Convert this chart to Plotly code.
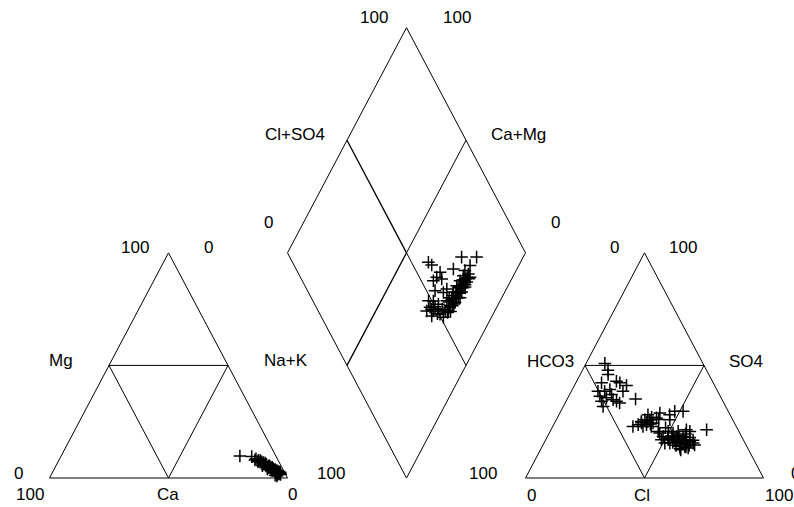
import plotly.graph_objects as go

# ---- data (percent of meq/L) ----
# Cation triangle: Ca and Mg (Na+K is the remainder)
cat_ca = [15.1, 10.3, 9.7, 9.0, 8.5, 8.0, 7.5, 7.0, 6.8, 6.2, 6.0, 5.5, 5.2, 5.0, 4.6, 4.3,
          4.0, 3.8, 3.5, 3.2, 3.0, 2.8, 2.5, 2.2, 2.0, 1.8, 4.0, 3.5, 3.0, 6.5, 7.8, 2.6,
          8.8, 8.2, 7.2, 6.6, 6.4, 5.8, 5.6, 4.9, 4.8, 4.4, 3.9, 3.6, 3.3, 2.9, 2.4, 2.1,
          4.6, 3.7]
cat_mg = [9.8, 9.5, 8.0, 8.5, 7.5, 7.0, 7.8, 6.5, 6.0, 5.8, 6.6, 5.2, 4.8, 5.5, 4.5, 4.0,
          4.8, 3.6, 3.2, 3.8, 2.8, 3.3, 2.5, 2.9, 2.2, 2.6, 0.9, 1.5, 2.0, 4.0, 5.5, 1.8,
          7.2, 7.9, 7.2, 6.9, 5.4, 6.1, 4.6, 4.2, 5.1, 3.5, 4.2, 2.9, 2.4, 3.0, 2.1, 1.6,
          1.2, 2.0]

# Anion triangle: Cl and SO4 (HCO3 is the remainder)
an_cl = [7.9, 10.7, 11.7, 10.8, 16.7, 18.5, 21.9, 21.7, 11.2, 14.0, 15.8, 13.1, 16.2, 19.4, 21.2, 22.9,
         16.7, 28.7, 17.6, 14.9,
         33.7, 35.5, 36.1, 37.2, 37.4, 39.3, 41.4, 42.0, 41.7, 39.0, 46.5, 47.9, 51.4, 47.7, 37.9, 41.4,
         46.4, 48.6, 49.6, 52.0, 53.8, 56.9, 58.7, 48.6, 51.0, 54.2, 57.0, 52.9, 56.7, 59.1, 57.8, 59.9,
         62.7, 63.7, 61.7, 65.4, 45.4, 50.8, 54.2, 58.9, 55.1, 52.1, 61.0, 47.7,
         55.5, 57.5, 59.5, 60.5, 58.5, 56.0, 54.0, 53.0, 57.5, 60.0, 62.0, 61.5, 59.0, 55.0, 51.5,
         38.5, 40.5, 39.5, 43.0, 36.5]
an_so4 = [50.9, 47.9, 46.0, 42.3, 43.0, 42.3, 41.1, 38.5, 38.5, 38.5, 39.3, 36.3, 35.6, 34.8, 34.1, 33.3,
          31.8, 35.1, 37.1, 34.1,
          22.9, 23.7, 25.1, 25.9, 28.1, 25.9, 24.4, 28.9, 26.7, 23.7, 28.1, 29.6, 29.6, 25.9, 22.9, 22.9,
          20.0, 18.4, 20.7, 20.0, 20.7, 21.4, 20.7, 17.0, 17.7, 18.4, 18.4, 15.5, 16.2, 17.0, 14.0, 14.0,
          15.5, 14.7, 13.3, 21.4, 20.7, 15.5, 17.0, 15.2, 17.9, 18.8, 16.1, 22.3,
          16.5, 15.8, 15.0, 13.8, 13.0, 14.5, 15.8, 18.0, 19.5, 18.0, 16.8, 14.5, 12.5, 19.0, 17.0,
          25.0, 24.0, 27.0, 26.0, 24.5]

# Diamond: Cl+SO4 and Ca+Mg
dia_clso4 = [57.1, 57.9, 72.2, 78.5, 66.1, 73.9, 70.6, 59.8, 57.3, 55.1,
             59.0, 68.8, 66.3, 63.8, 58.9, 53.6, 56.7, 61.0, 48.6, 50.6,
             52.0, 56.3, 58.7, 56.5, 47.8, 48.4, 50.9, 46.6, 51.2, 50.5,
             54.7, 59.4, 61.9, 64.5, 67.0, 68.8, 71.3, 71.3, 45.6, 57.5,
             60.5, 63.0, 65.5, 68.0, 70.0, 62.5, 66.0, 55.5, 53.5, 58.0,
             60.0, 64.0,
             54.0, 56.0, 58.5, 59.5, 61.0, 62.0, 63.5, 65.0, 66.5, 67.5,
             69.0, 70.5, 57.0, 52.5, 49.5, 48.0, 50.0]
dia_camg = [38.7, 36.7, 25.9, 19.6, 26.7, 20.5, 21.5, 31.6, 31.9, 32.5,
            29.4, 21.0, 21.3, 21.6, 25.0, 29.6, 25.7, 21.5, 30.1, 28.0,
            25.2, 22.4, 20.7, 20.0, 28.0, 25.8, 24.1, 25.4, 20.2, 22.3,
            19.5, 18.6, 18.3, 18.1, 17.8, 18.2, 17.9, 19.3, 28.6, 19.0,
            19.5, 19.8, 19.5, 20.0, 19.0, 17.5, 18.5, 18.5, 20.8, 22.0,
            21.0, 20.5,
            19.5, 19.8, 18.8, 20.2, 18.8, 20.5, 18.6, 20.0, 19.2, 18.3,
            19.5, 18.0, 21.2, 22.5, 23.5, 27.0, 26.0]

# ---- geometry (triangle side = 100 units) ----
H = 86.6025
RIGHT_OFF = 200.0

def outline():
    xs, ys = [], []
    def seg(pts):
        for p in pts:
            xs.append(p[0]); ys.append(p[1])
        xs.append(None); ys.append(None)
    for off in (0.0, RIGHT_OFF):
        seg([(off, 0), (off + 100, 0), (off + 50, H), (off, 0)])
        seg([(off + 25, H / 2), (off + 75, H / 2)])
        seg([(off + 25, H / 2), (off + 50, 0), (off + 75, H / 2)])
    seg([(150, 0), (200, H), (150, 2 * H), (100, H), (150, 0)])
    seg([(175, 1.5 * H), (150, H), (175, 0.5 * H)])
    return xs, ys

ox, oy = outline()

# cation points
cx = [(100 - ca - mg) + mg / 2 for ca, mg in zip(cat_ca, cat_mg)]
cy = [mg * H / 100 for mg in cat_mg]
# anion points
ax_ = [RIGHT_OFF + cl + so4 / 2 for cl, so4 in zip(an_cl, an_so4)]
ay_ = [so4 * H / 100 for so4 in an_so4]
# diamond points
dx = [150 + (a - c) / 2 for a, c in zip(dia_clso4, dia_camg)]
dy = [(a + c) * H / 100 for a, c in zip(dia_clso4, dia_camg)]

fig = go.Figure()
fig.add_trace(go.Scatter(x=ox, y=oy, mode="lines",
                         line=dict(color="black", width=1), hoverinfo="skip"))
# slightly bolder left inner lines of the diamond
fig.add_trace(go.Scatter(x=[125, 150, 125], y=[1.5 * H, H, 0.5 * H], mode="lines",
                         line=dict(color="black", width=1.3), hoverinfo="skip"))

mk = dict(symbol="cross-thin", size=9, color="black", line=dict(color="black", width=1.5))
for xs, ys in ((cx, cy), (ax_, ay_), (dx, dy)):
    fig.add_trace(go.Scatter(x=xs, y=ys, mode="markers", marker=mk))

W, HT = 794, 507
labels = [
    ("100", 135, 247), ("0", 208, 247), ("Mg", 61, 360), ("Na+K", 286, 360),
    ("0", 18, 473), ("100", 30, 494), ("Ca", 168, 494), ("0", 292, 494), ("100", 331, 473),
    ("100", 374, 18), ("100", 457, 18), ("Cl+SO4", 295, 134), ("Ca+Mg", 518, 134),
    ("0", 268, 222), ("0", 555, 222), ("100", 483, 473),
    ("0", 614, 247), ("100", 683, 247), ("HCO3", 550, 361), ("SO4", 746, 361),
    ("0", 531, 495), ("Cl", 642, 495), ("100", 779, 495), ("0", 795, 473),
]
for t, px, py in labels:
    fig.add_annotation(x=px / W, y=1 - py / HT, xref="paper", yref="paper", text=t,
                       showarrow=False, xanchor="center", yanchor="middle",
                       font=dict(family="Liberation Sans, Arial, sans-serif", size=17, color="black"))

X_PX0, X_SC = 49.5, 2.38
Y_PX0, Y_SC = 478.0, 2.6
fig.update_layout(
    width=W, height=HT, autosize=False,
    margin=dict(l=0, r=0, t=0, b=0),
    paper_bgcolor="white", plot_bgcolor="white",
    showlegend=False,
    xaxis=dict(range=[-X_PX0 / X_SC, (W - X_PX0) / X_SC], visible=False, fixedrange=True),
    yaxis=dict(range=[(Y_PX0 - HT) / Y_SC, Y_PX0 / Y_SC], visible=False, fixedrange=True),
)

fig.write_html("out.html", config={"displayModeBar": False},
               post_script="document.body.style.margin='0px';document.body.style.overflow='hidden';")
